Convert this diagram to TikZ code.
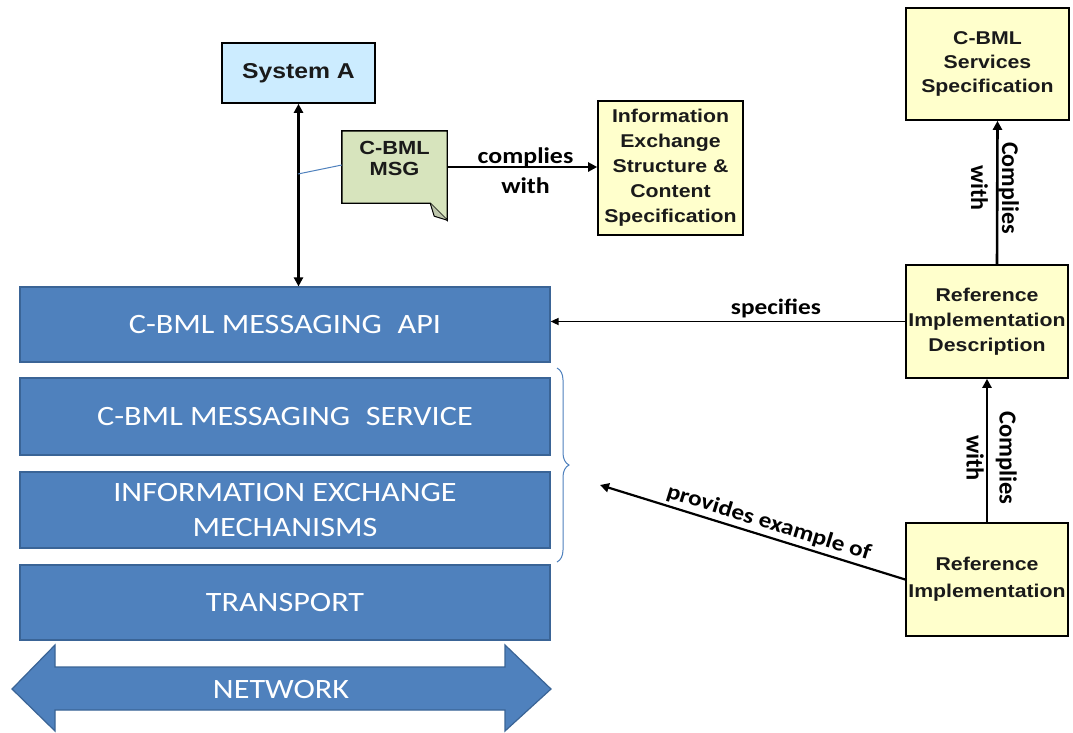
\documentclass[tikz,border=0pt]{standalone}
\usepackage{fontspec}
\setmainfont{Liberation Sans}
\newfontfamily\arialw[FakeStretch=1.15]{Liberation Sans}
\newfontfamily\calw[FakeStretch=1.15]{Carlito}
\newfontfamily\calib{Carlito}
\usetikzlibrary{arrows.meta,decorations.pathreplacing}
\definecolor{yfill}{HTML}{FFFFCC}
\definecolor{gfill}{HTML}{D7E4BD}
\definecolor{sfill}{HTML}{CCECFF}
\definecolor{lblue}{HTML}{4F81BD}
\definecolor{dblue}{HTML}{3A6496}
\definecolor{ink}{HTML}{1A1A1A}
\begin{document}
\begin{tikzpicture}[x=1pt,y=-1pt,
  ybox/.style={draw=black, line width=1.6pt, fill=yfill, text=ink, font=\arialw\fontsize{18.5}{25}\selectfont\bfseries, align=center, inner sep=0pt},
  layer/.style={draw=dblue, line width=1.2pt, fill=lblue, text=white, font=\calw\fontsize{28}{35}\selectfont, align=center, inner sep=0pt, minimum width=530pt},
  conn/.style={-{Triangle[length=9pt,width=9pt]}, line width=2.6pt},
  thinconn/.style={-{Triangle[length=8pt,width=7pt]}, line width=1.6pt},
  lbl/.style={font=\calw\fontsize{22.5}{30}\selectfont\bfseries, align=center, text=black, inner sep=1pt},
  rlbl/.style={font=\calib\fontsize{24}{31}\selectfont\bfseries, align=center, text=black, inner sep=1pt, rotate=-90}]
\useasboundingbox[fill=white] (0,0) rectangle (1073,732);

% top nodes
\node[ybox, fill=sfill, font=\arialw\fontsize{21.5}{26}\selectfont\bfseries, minimum width=153pt, minimum height=60pt] (sysA) at (298.5,73) {System A};
\node[ybox, minimum width=145pt, minimum height=134pt] (info) at (670.5,168) {Information\\Exchange\\Structure \&\\Content\\Specification};
\node[ybox, font=\arialw\fontsize{18.5}{24}\selectfont\bfseries, minimum width=163pt, minimum height=112pt] (svc) at (987.5,64) {C-BML\\Services\\Specification};
\node[ybox, minimum width=162pt, minimum height=113pt] (rid) at (987,321.5) {Reference\\Implementation\\Description};
\node[ybox, font=\arialw\fontsize{18.5}{27}\selectfont\bfseries, minimum width=162pt, minimum height=113pt] (ri) at (987,579.5) {Reference\\Implementation};

% message note with folded corner
\node[inner sep=0pt, minimum width=105pt, minimum height=72pt] (msg) at (394.5,167) {};
\draw[line width=1.4pt, fill=gfill] (msg.north west) -- (msg.north east) -- ([yshift=-17pt]msg.south east) -- ([xshift=-17pt]msg.south east) -- (msg.south west) -- cycle;
\draw[line width=1pt, fill=gfill!70!gray] ([yshift=-17pt]msg.south east) -- ([xshift=-13pt,yshift=-13pt]msg.south east) -- ([xshift=-17pt]msg.south east);
\node[text=ink, font=\arialw\fontsize{19}{21}\selectfont\bfseries, align=center] (msgtxt) at (394.5,158.5) {C-BML\\MSG};

% layers
\node[layer, minimum height=75pt] (api) at (285,324.5) {C-BML MESSAGING\hspace{0.3em} API};
\node[layer, minimum height=77pt] (svcl) at (285,416.5) {C-BML MESSAGING\hspace{0.3em} SERVICE};
\node[layer, minimum height=76pt] (iem) at (285,510) {INFORMATION EXCHANGE\\MECHANISMS};
\node[layer, minimum height=75pt] (trans) at (285,602.5) {TRANSPORT};

% network double arrow
\draw[draw=dblue, line width=1.2pt, fill=lblue] (12,689) -- (55,645) -- (55,667) -- (505,667) -- (505,645) -- (551,689) -- (505,731) -- (505,710) -- (55,710) -- (55,731) -- cycle;
\node[text=white, font=\calw\fontsize{28}{35}\selectfont] (net) at (281,689) {NETWORK};

% connectors
\draw[{Triangle[length=9pt,width=9pt]}-{Triangle[length=9pt,width=9pt]}, line width=2.6pt] (sysA.south) -- (sysA.south |- api.north);
\coordinate (tap) at (298,174);
\draw[lblue, line width=1pt] ([yshift=2pt]msg.west) -- (tap);
\draw[conn] (msg.east) -- (msg.east -| info.west);
\node[lbl] (cw1) at (525.5,170.5) {complies\\with};

\draw[conn] ([xshift=10pt]rid.north) -- ([xshift=10pt]svc.south);
\node[rlbl] (cw2) at (995,188) {Complies\\with};

\draw[conn] (ri.north) -- (rid.south);
\node[rlbl, font=\calib\fontsize{24.5}{33}\selectfont\bfseries] (cw3) at (991.5,458) {Complies\\with};

\draw[thinconn] (rid.west) -- (rid.west -| api.east);
\node[lbl, font=\calw\fontsize{22}{26}\selectfont\bfseries] (spec) at (776,308) {specifies};

\coordinate (pex) at (600,485);
\draw[conn, line width=2.2pt] (ri.west) -- node[pos=0.46, above, sloped, lbl, font=\calw\fontsize{22}{26}\selectfont\bfseries, inner sep=3pt] (pexl) {provides example of} (pex);

% brace
\draw[lblue, line width=1pt, decorate, decoration={brace, amplitude=12pt}] (557,368) -- (557,562);
\end{tikzpicture}
\end{document}
